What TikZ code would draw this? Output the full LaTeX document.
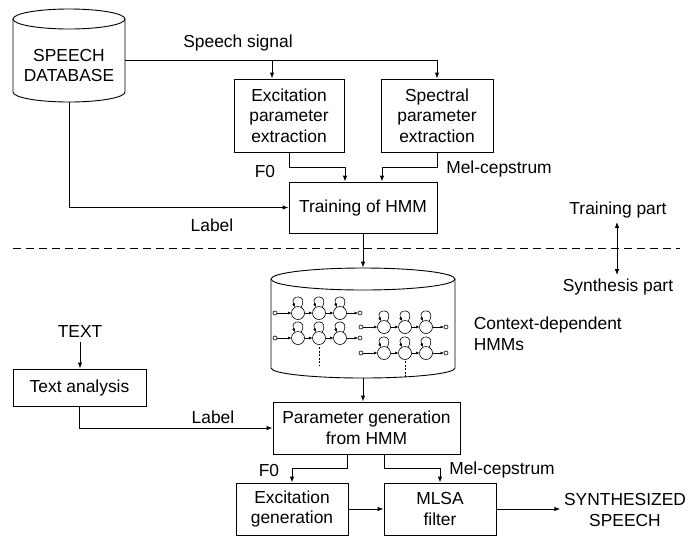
\documentclass[tikz,border=0pt]{standalone}
\usepackage{fontspec}
\setmainfont{Liberation Sans}
\usetikzlibrary{arrows.meta}
\newcommand{\Body}{\fontsize{17.4}{20.6}\selectfont}
% one left-to-right HMM: entry, three looped states, exit
\newcommand{\hmmrow}[2]{%
  \draw[hmmline] (#1,#2) circle[radius=2];
  \foreach \s in {23,44,65}{
    \draw[hmmline] (#1+\s,#2) circle[radius=6.5];
    \draw[hmmarr] (#1+\s+3,#2-5.6) .. controls (#1+\s+11,#2-19) and (#1+\s-9,#2-19) .. (#1+\s-3,#2-5.9);}
  \draw[hmmarr] (#1+2,#2) -- (#1+16.5,#2);
  \draw[hmmarr] (#1+29.5,#2) -- (#1+37.5,#2);
  \draw[hmmarr] (#1+50.5,#2) -- (#1+58.5,#2);
  \draw[hmmarr] (#1+71.5,#2) -- (#1+83,#2);
  \draw[hmmline] (#1+85,#2) circle[radius=2];}

\begin{document}
\begin{tikzpicture}[x=1pt,y=-1pt, font=\Body, line width=0.9pt,
    box/.style={draw, align=center, inner sep=0pt},
    arr/.style={-{Latex[length=6pt,width=4.5pt]}},
    hmmline/.style={line width=0.6pt},
    hmmarr/.style={line width=0.6pt,-{Latex[length=3.5pt,width=3pt]}}]
  \useasboundingbox (0,0) rectangle (692,555);

  % training part
  \node[minimum width=112pt, minimum height=94pt] (db) at (69,55) {};
  \draw (13,19) -- (13,92) arc[start angle=180, end angle=0, x radius=56, y radius=10] -- (125,19);
  \draw (69,19) ellipse[x radius=56, y radius=10];
  \node[align=center] (dbtxt) at (69,65.5) {SPEECH\\DATABASE};

  \node[box, minimum width=110pt, minimum height=73pt] (exc) at (289,115.5) {Excitation\\parameter\\extraction};
  \node[box, minimum width=112pt, minimum height=73pt] (spec) at (437,115.5) {Spectral\\parameter\\extraction};
  \node[box, minimum width=148pt, minimum height=51pt] (train) at (363,207.5) {Training of HMM};

  \coordinate (sig) at ([yshift=-5pt]db.east);
  \coordinate (excin) at ([xshift=-17pt]exc.north);
  \draw (sig) -- (spec.north |- sig);
  \draw[arr] (spec.north |- sig) -- (spec.north);
  \draw[arr] (excin |- sig) -- (excin);
  \node (sigtxt) at (238,43) {Speech signal};

  \coordinate (f0in) at ([xshift=-18pt]train.north);
  \coordinate (melin) at ([xshift=19pt]train.north);
  \draw[arr] (exc.south) -- ++(0,15) -| (f0in);
  \draw[arr] (spec.south) -- ++(0,15) -| (melin);
  \node (f0a) at (265,172) {F0};
  \node (mela) at (499,169) {Mel-cepstrum};

  \draw[arr] (db.south) |- (train.west);
  \node (laba) at (212,225) {Label};

  % separator
  \coordinate (sepL) at (13,248);
  \coordinate (sepR) at (680,248);
  \coordinate (mid) at (617,248);
  \draw[dash pattern=on 8pt off 5pt] (sepL) -- (sepR);
  \node (trp) at (618,210) {Training part};
  \node (syp) at (618,287) {Synthesis part};
  \draw[arr] (mid) -- (mid |- trp.south);
  \draw[arr] (mid) -- (mid |- syp.north);

  % synthesis part
  \node[minimum width=184pt, minimum height=110pt] (hmm) at (363,323) {};
  \draw (271,279) -- (271,368) arc[start angle=180, end angle=0, x radius=92, y radius=10] -- (455,279);
  \draw (363,279) ellipse[x radius=92, y radius=11];
  \hmmrow{275}{313}
  \hmmrow{275}{338}
  \hmmrow{361}{327}
  \hmmrow{361}{353}
  \draw[hmmline, dash pattern=on 2pt off 1.5pt] (319,347) -- (319,366);
  \draw[hmmline, dash pattern=on 2pt off 1.5pt] (405,361) -- (405,377);
  \node[align=left, anchor=west] (ctx) at (470,333.5) {Context-dependent\\HMMs};
  \draw[arr] (train.south) -- (hmm.north);

  \node (txt) at (80,332) {TEXT};
  \node[box, minimum width=133pt, minimum height=37pt] (ana) at (79.5,387.5) {Text analysis};
  \draw[arr] (txt.south) -- (txt.south |- ana.north);

  \node[box, minimum width=187pt, minimum height=52pt] (gen) at (366.5,428) {Parameter generation\\from HMM};
  \draw[arr] (hmm.south) -- (hmm.south |- gen.north);
  \draw[arr] (ana.south) |- (gen.west);
  \node (labb) at (213,417) {Label};

  \node[box, minimum width=112pt, minimum height=52pt] (exg) at (292,509) {Excitation\\generation};
  \node[box, minimum width=112pt, minimum height=52pt] (mlsa) at (440,509) {MLSA\\filter};
  \coordinate (f0out) at ([xshift=-19.5pt]gen.south);
  \coordinate (melout) at ([xshift=17.5pt]gen.south);
  \draw[arr] (f0out) -- ++(0,14) -| (exg.north);
  \draw[arr] (melout) -- ++(0,14) -| (mlsa.north);
  \node (f0b) at (269,470) {F0};
  \node (melb) at (502,470) {Mel-cepstrum};
  \draw[arr] (exg) -- (mlsa);
  \node[align=center] (out) at (625,510) {SYNTHESIZED\\SPEECH};
  \draw[arr] (mlsa.east) -- (mlsa.east -| out.west);
\end{tikzpicture}
\end{document}
